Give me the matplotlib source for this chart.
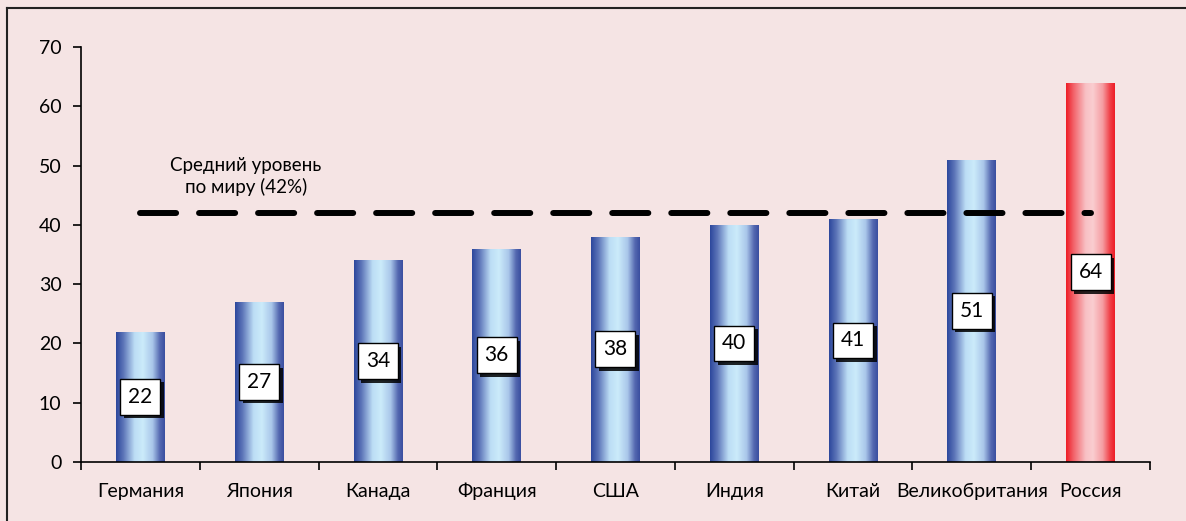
import matplotlib
matplotlib.use("Agg")
import matplotlib.pyplot as plt
import matplotlib.patheffects as pe
import numpy as np
from matplotlib.colors import LinearSegmentedColormap

countries = ['Германия', 'Япония', 'Канада', 'Франция', 'США', 'Индия',
             'Китай', 'Великобритания', 'Россия']
values = [22, 27, 34, 36, 38, 40, 41, 51, 64]
world_avg = 42
avg_label = 'Средний уровень\nпо миру (42%)'
yticks = [0, 10, 20, 30, 40, 50, 60, 70]

plt.rcParams['font.family'] = ['Lato', 'DejaVu Sans']
plt.rcParams['lines.scale_dashes'] = False

bg = '#F5E4E4'
blue_cmap = LinearSegmentedColormap.from_list(
    'blue', [(0, '#2C479C'), (0.15, '#5C74B8'), (0.38, '#BCDDF5'),
             (0.55, '#CBEBFA'), (0.75, '#A9C6EA'), (0.9, '#5468B0'), (1, '#3A4EA0')])
red_cmap = LinearSegmentedColormap.from_list(
    'red', [(0, '#EE1C25'), (0.15, '#F26168'), (0.4, '#F8C0C4'),
            (0.55, '#FACDD0'), (0.75, '#F59DA2'), (0.9, '#F04048'), (1, '#EE1C25')])

fig = plt.figure(figsize=(11.86, 5.21), dpi=100, facecolor=bg)
ax = fig.add_axes([0.0683, 0.1132, 0.9013, 0.7966])
ax.set_facecolor(bg)

x = np.arange(len(countries))
bars = ax.bar(x, values, width=0.41, color='none', zorder=2)
grad = np.linspace(0, 1, 256).reshape(1, -1)
for i, b in enumerate(bars):
    cmap = red_cmap if countries[i] == 'Россия' else blue_cmap
    im = ax.imshow(grad, cmap=cmap, aspect='auto', zorder=2,
                   extent=[b.get_x(), b.get_x() + b.get_width(), 0, b.get_height()])
    im.set_clip_path(b)

ax.plot([x[0], x[-1]], [world_avg, world_avg], color='black', lw=4.3,
        dashes=(26, 16.5), dash_capstyle='round', zorder=3)
ax.text(0.89, 48.2, avg_label, ha='center', va='center', fontsize=13.5,
        linespacing=1.25, zorder=4)

for xi, v in zip(x, values):
    t = ax.text(xi, v / 2, str(v), ha='center', va='center', fontsize=15, zorder=5,
                bbox=dict(boxstyle='square,pad=0.38', fc='white', ec='black', lw=1))
    t.get_bbox_patch().set_path_effects([
        pe.SimplePatchShadow(offset=(2.5, -2.5), shadow_rgbFace='black', alpha=0.85),
        pe.Normal()])

ax.set_xlim(-0.5, len(countries) - 0.5)
ax.set_ylim(0, 70)
ax.set_yticks(yticks)
ax.set_xticks(x)
ax.set_xticklabels(countries, fontsize=14, va='baseline')
ax.tick_params(axis='x', length=0, pad=25)
ax.set_xticks(np.arange(len(countries) + 1) - 0.5, minor=True)
ax.tick_params(axis='x', which='minor', length=6, width=1.2, direction='out')
ax.tick_params(axis='y', length=6, width=1.2, labelsize=14, pad=8)
for s in ['top', 'right']:
    ax.spines[s].set_visible(False)
for s in ['left', 'bottom']:
    ax.spines[s].set_linewidth(1.2)

# outer frame (only top and left edges fall inside the image)
fig.add_artist(plt.Line2D([0.0059, 1.0], [0.9846, 0.9846], color='#222222', lw=1.5,
                          transform=fig.transFigure))
fig.add_artist(plt.Line2D([0.0059, 0.0059], [0.0, 0.9846], color='#222222', lw=1.5,
                          transform=fig.transFigure))

fig.savefig('out.png', dpi=100, facecolor=bg)
